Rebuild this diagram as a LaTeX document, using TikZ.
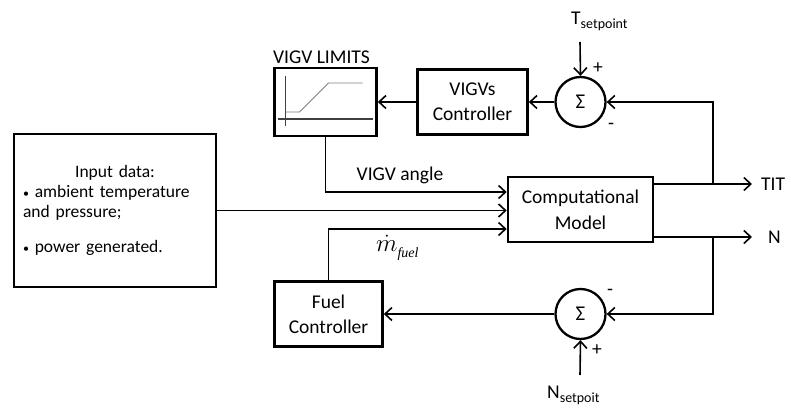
\documentclass[tikz,border=0pt]{standalone}
\usepackage{fontspec}
\setmainfont{Carlito}
\newfontfamily\fuelfont{Liberation Serif}
\usetikzlibrary{positioning, arrows.meta}
\newcommand{\lowsub}[1]{\raisebox{-4pt}{\fontsize{14}{14}\selectfont #1}}
\tikzset{
x=1pt, y=1pt,
>={Straight Barb[length=7pt, width=13pt]}, % open arrow heads
block/.style={draw, line width=2.6pt, minimum width=#1, minimum height=65pt, align=center, inner sep=2pt}, % boxes
sum/.style={draw, circle, line width=2.3pt, minimum size=50pt, inner sep=0pt, font=\fontsize{21}{22}\selectfont}, % summing points
flow/.style={->, line width=1.6pt}, % signal lines
sign/.style={inner sep=0pt}, % + and - marks
}
\begin{document}
\begin{tikzpicture}[font=\fontsize{19.5}{22}\selectfont]
\useasboundingbox (0,0) rectangle (791,410);

\node[block=145pt] (model) at (580.5,200.5) {Computational\\[4pt]Model};
\node[block=202pt, minimum height=153pt, text width=184pt, align=left, inner sep=8pt, font=\fontsize{17.5}{20}\selectfont] (input) at (115,199.5)
  {\hfil Input data:\hfil\\ {\fontsize{12}{12}\selectfont•}\ ambient temperature\\ and pressure;\\[15pt] {\fontsize{12}{12}\selectfont•}\ power generated.};
\node[sum, above of=model, node distance=107.5pt] (sumT) {Σ};
\node[block=110pt, left of=sumT, node distance=108pt] (vctrl) {VIGVs\\[3pt]Controller};
\node[block=102pt, minimum height=68pt, left of=vctrl, node distance=147pt] (vlim) {};
\node[above=0pt of vlim, xshift=-4pt] (vlimlbl) {VIGV LIMITS};
\node[sum, below of=model, node distance=104.5pt] (sumN) {Σ};
\node[block=108pt, left of=sumN, node distance=252pt] (fctrl) {Fuel\\[3pt]Controller};

% limits curve
\begin{scope}[shift={(vlim.center)}]
\draw[line width=1.3pt, black!75] (-40,26) -- (-40,-24);
\draw[line width=1.3pt, black!75] (-48,-17) -- (47,-17);
\draw[line width=0.8pt, gray] (-40,-10) -- (-26,-10) -- (3,19) -- (37,19);
\end{scope}

\node[anchor=base west, inner sep=0pt] (tset) at (571,385) {T\lowsub{setpoint}};
\node[anchor=base west, inner sep=0pt] (nset) at (547,12) {N\lowsub{setpoit}};
\node[sign] (tplus) at (598,342) {+};
\node[sign] (tminus) at (611,284) {-};
\node[sign] (nminus) at (610,118) {-};
\node[sign] (nplus) at (597,60) {+};
\node (angle) at (400,235) {VIGV angle};
\node[anchor=base west, inner sep=0pt] (mfuel) at (376,159)
  {\fontsize{26}{28}\selectfont$\dot{m}$\raisebox{-6pt}{\fuelfont\itshape\fontsize{14}{14}\selectfont fuel}};

\coordinate (tsp) at (580,368);
\coordinate (nsp) at (580,35);
\coordinate (titbr) at (713,226);
\coordinate (nbr) at (713,173);
\coordinate (titend) at (752,226);
\coordinate (nend) at (752,173);
\node[right=9pt of titend, inner sep=0pt] (tit) {TIT};
\node[right=16pt of nend, inner sep=0pt] (nout) {N};

\draw[flow] (tsp) -- (sumT.north);
\draw[flow] (sumT.west) -- (sumT.west -| vctrl.east);
\draw[flow] (vctrl.west) -- (vctrl.west -| vlim.east);
\draw[flow] (vlim.south) |- ([yshift=17.5pt]model.west);
\draw[flow] (input.east) -- (input.east -| model.west);
\draw[flow] (fctrl.north) |- ([yshift=-19.5pt]model.west);
\draw[flow] (titbr -| model.east) -- (titend);
\draw[flow] (nbr -| model.east) -- (nend);
\draw[flow] (titbr) |- (sumT.east);
\draw[flow] (nbr) |- (sumN.east);
\draw[flow] (sumN.west) -- (sumN.west -| fctrl.east);
\draw[flow] (nsp) -- (sumN.south);
\end{tikzpicture}
\end{document}
